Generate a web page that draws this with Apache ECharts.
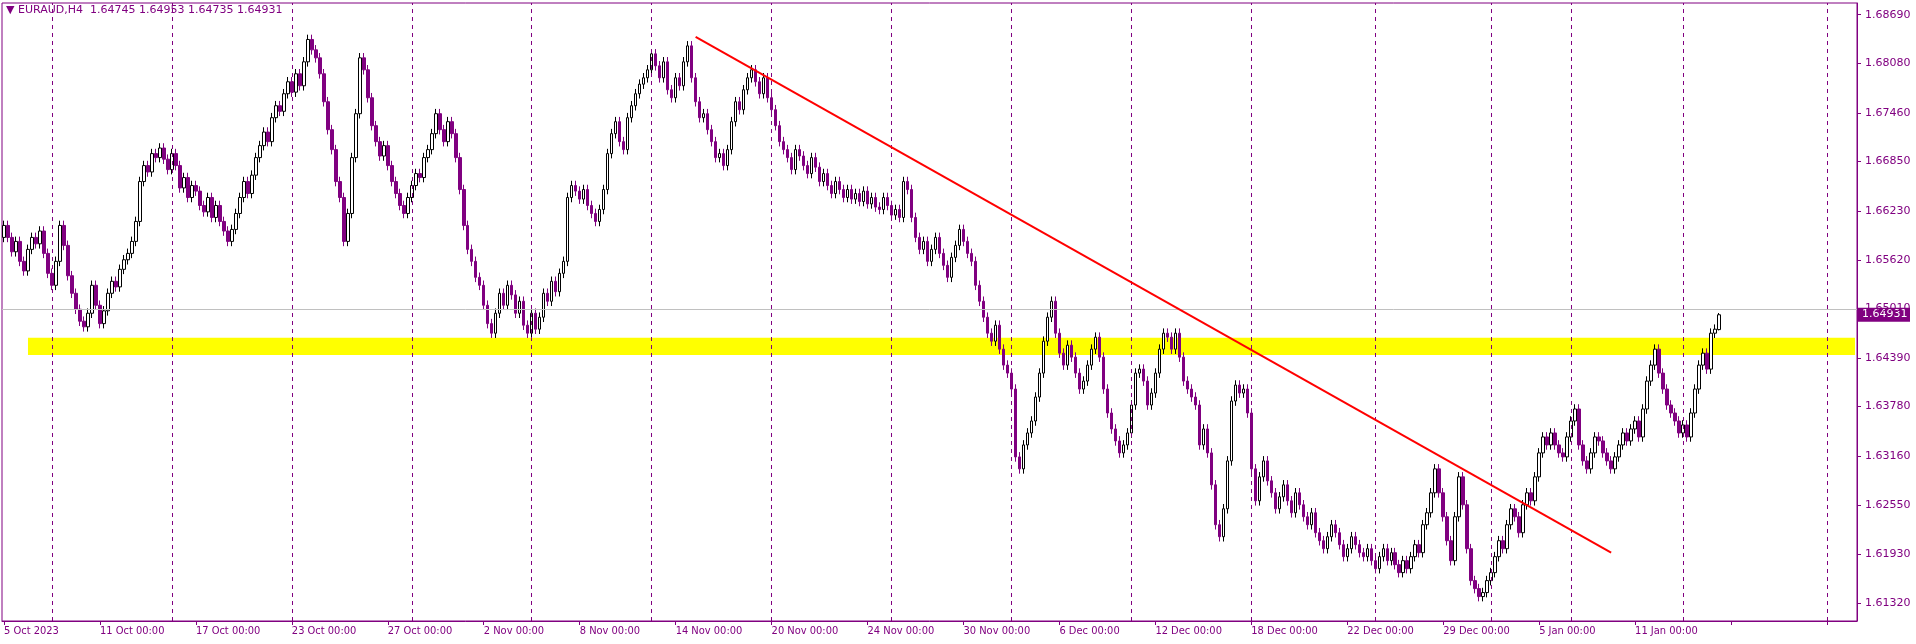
<!DOCTYPE html>
<html><head><meta charset="utf-8">
<script src="https://cdn.jsdelivr.net/npm/echarts@6/dist/echarts.min.js"></script>
<style>html,body{margin:0;padding:0;background:#fff}#c{width:1916px;height:644px}</style>
</head><body><div id="c"></div>
<script>
const firstOpen = 1.6590;
const closes = [
1.6605,1.6590,1.6572,1.6585,1.6560,1.6548,1.6575,1.6590,1.6582,1.6598,
1.6570,1.6545,1.6530,1.6560,1.6605,1.6580,1.6542,1.6520,1.6500,1.6485,
1.6478,1.6495,1.6530,1.6505,1.6482,1.6498,1.6520,1.6535,1.6528,1.6550,
1.6562,1.6570,1.6585,1.6610,1.6660,1.6680,1.6672,1.6695,1.6690,1.6702,
1.6688,1.6675,1.6695,1.6680,1.6652,1.6665,1.6640,1.6655,1.6648,1.6630,
1.6622,1.6640,1.6615,1.6630,1.6610,1.6598,1.6585,1.6600,1.6620,1.6640,
1.6660,1.6645,1.6668,1.6690,1.6705,1.6722,1.6710,1.6740,1.6755,1.6748,
1.6770,1.6785,1.6772,1.6795,1.6780,1.6810,1.6838,1.6825,1.6815,1.6795,
1.6760,1.6725,1.6700,1.6660,1.6640,1.6585,1.6620,1.6690,1.6745,1.6815,
1.6800,1.6765,1.6730,1.6710,1.6692,1.6705,1.6680,1.6660,1.6645,1.6630,
1.6620,1.6640,1.6655,1.6670,1.6665,1.6690,1.6700,1.6720,1.6745,1.6725,
1.6710,1.6735,1.6720,1.6690,1.6650,1.6605,1.6575,1.6560,1.6540,1.6530,
1.6505,1.6482,1.6470,1.6495,1.6520,1.6505,1.6530,1.6518,1.6495,1.6510,
1.6480,1.6470,1.6495,1.6475,1.6490,1.6520,1.6510,1.6535,1.6522,1.6545,
1.6560,1.6640,1.6655,1.6648,1.6638,1.6650,1.6630,1.6620,1.6610,1.6625,
1.6650,1.6695,1.6720,1.6735,1.6710,1.6700,1.6740,1.6755,1.6770,1.6782,
1.6790,1.6800,1.6820,1.6805,1.6790,1.6810,1.6775,1.6765,1.6790,1.6780,
1.6810,1.6830,1.6790,1.6760,1.6740,1.6745,1.6725,1.6710,1.6690,1.6695,
1.6680,1.6700,1.6735,1.6760,1.6750,1.6775,1.6790,1.6800,1.6785,1.6770,
1.6790,1.6765,1.6750,1.6730,1.6710,1.6700,1.6690,1.6675,1.6700,1.6692,
1.6680,1.6670,1.6690,1.6678,1.6660,1.6670,1.6655,1.6645,1.6660,1.6650,
1.6640,1.6650,1.6638,1.6645,1.6635,1.6648,1.6632,1.6640,1.6628,1.6625,
1.6640,1.6630,1.6618,1.6625,1.6615,1.6660,1.6650,1.6615,1.6590,1.6575,
1.6585,1.6560,1.6575,1.6590,1.6570,1.6555,1.6540,1.6565,1.6580,1.6600,
1.6585,1.6570,1.6560,1.6530,1.6510,1.6490,1.6470,1.6460,1.6480,1.6450,
1.6430,1.6420,1.6400,1.6315,1.6300,1.6330,1.6345,1.6360,1.6390,1.6420,
1.6460,1.6490,1.6510,1.6470,1.6445,1.6430,1.6455,1.6440,1.6420,1.6400,
1.6410,1.6430,1.6450,1.6465,1.6440,1.6400,1.6370,1.6350,1.6335,1.6320,
1.6330,1.6345,1.6380,1.6420,1.6425,1.6410,1.6380,1.6395,1.6420,1.6450,
1.6470,1.6465,1.6450,1.6470,1.6440,1.6410,1.6400,1.6390,1.6380,1.6330,
1.6350,1.6320,1.6280,1.6230,1.6215,1.6250,1.6310,1.6385,1.6405,1.6395,
1.6400,1.6370,1.6300,1.6260,1.6290,1.6310,1.6285,1.6270,1.6250,1.6265,
1.6280,1.6260,1.6245,1.6270,1.6255,1.6240,1.6230,1.6245,1.6220,1.6210,
1.6200,1.6215,1.6230,1.6220,1.6205,1.6190,1.6200,1.6215,1.6205,1.6195,
1.6190,1.6200,1.6185,1.6175,1.6190,1.6200,1.6185,1.6195,1.6180,1.6170,
1.6185,1.6175,1.6190,1.6205,1.6195,1.6230,1.6245,1.6270,1.6300,1.6270,
1.6240,1.6210,1.6185,1.6240,1.6290,1.6255,1.6200,1.6160,1.6150,1.6140,
1.6145,1.6160,1.6170,1.6190,1.6210,1.6200,1.6230,1.6250,1.6240,1.6220,
1.6255,1.6270,1.6260,1.6290,1.6320,1.6340,1.6330,1.6345,1.6330,1.6320,
1.6315,1.6340,1.6360,1.6375,1.6330,1.6310,1.6300,1.6320,1.6340,1.6335,
1.6320,1.6310,1.6300,1.6315,1.6330,1.6345,1.6335,1.6350,1.6360,1.6340,
1.6375,1.6410,1.6430,1.6450,1.6420,1.6400,1.6380,1.6370,1.6360,1.6345,
1.6355,1.6340,1.6370,1.6400,1.6430,1.6445,1.6425,1.6470,1.6475,1.64931
];
const wick = 0.0006;
const lastBar = [1.64745, 1.64931, 1.64735, 1.64953];
const dateLabels = ["5 Oct 2023","11 Oct 00:00","17 Oct 00:00","23 Oct 00:00","27 Oct 00:00","2 Nov 00:00","8 Nov 00:00","14 Nov 00:00","20 Nov 00:00","24 Nov 00:00","30 Nov 00:00","6 Dec 00:00","12 Dec 00:00","18 Dec 00:00","22 Dec 00:00","29 Dec 00:00","5 Jan 00:00","11 Jan 00:00"];
const labelStep = 24;
const gridLineIdx = [12,42,72,102,132,162,192,222,252,282,312,343,372,392,420,456];
const priceTicks = [1.61320,1.61930,1.62550,1.63160,1.63780,1.64390,1.65010,1.65620,1.66230,1.66850,1.67460,1.68080,1.68690];
const supportBand = [1.64427, 1.64643];
const trendLine = [[173, 1.68413], [402, 1.61950]];
const currentPrice = 1.64931;
const totalSlots = 464;

const cats = [];
for (let i = 0; i < totalSlots; i++) cats.push(String(i));
const ohlc = [];
let prev = firstOpen;
closes.forEach((c, i) => {
  const o = prev;
  if (i === closes.length - 1) { ohlc.push(lastBar); }
  else ohlc.push([o, c, Math.min(o, c) - wick, Math.max(o, c) + wick]);
  prev = c;
});
const P = '#800080';
const chart = echarts.init(document.getElementById('c'));
chart.setOption({
  animation: false,
  backgroundColor: '#fff',
  grid: { left: 2, right: 59, top: 3, bottom: 23, show: true, borderColor: P, borderWidth: 1 },
  xAxis: {
    type: 'category', data: cats, boundaryGap: true,
    axisLine: { lineStyle: { color: P } },
    axisTick: { show: true, alignWithLabel: true, interval: (i) => i % labelStep === 0, length: 4, lineStyle: { color: P } },
    axisLabel: { interval: (i) => i % labelStep === 0, align: 'left', color: P, fontFamily: 'DejaVu Sans Condensed, DejaVu Sans', fontSize: 11, margin: 5,
      formatter: (v) => dateLabels[(+v) / labelStep] || '' },
    splitLine: { show: false }
  },
  yAxis: {
    type: 'value', position: 'right', min: 1.61094, max: 1.68837, scale: true,
    axisLine: { show: true, lineStyle: { color: P } },
    axisTick: { show: true, customValues: priceTicks, length: 4, lineStyle: { color: P } },
    axisLabel: { customValues: priceTicks, color: P, fontFamily: 'DejaVu Sans', fontSize: 11, margin: 8, formatter: (v) => v.toFixed(5) },
    splitLine: { show: false }
  },
  series: [{
    type: 'candlestick', data: ohlc, barWidth: 3,
    itemStyle: { color: '#ffffff', color0: P, borderColor: '#000000', borderColor0: P, borderWidth: 1 },
    markArea: { silent: true, itemStyle: { color: '#ffff00' },
      data: [[{ xAxis: 6, yAxis: supportBand[0] }, { xAxis: totalSlots - 1, yAxis: supportBand[1] }]] },
    markLine: { silent: true, symbol: 'none', label: { show: false },
      data: [
        ...gridLineIdx.map(i => ({ xAxis: i, lineStyle: { color: P, type: [4, 4], width: 1 } })),
        { yAxis: currentPrice, lineStyle: { color: '#c0c0c0', type: 'solid', width: 1 } },
        [{ coord: [String(trendLine[0][0]), trendLine[0][1]], lineStyle: { color: '#ff0000', width: 2, type: 'solid' } },
         { coord: [String(trendLine[1][0]), trendLine[1][1]] }]
      ] }
  }]
});
const py = chart.convertToPixel({ yAxisIndex: 0 }, currentPrice);
chart.setOption({ graphic: [
  { type: 'text', left: 6, top: 5, style: { text: '▼ EURAUD,H4  1.64745 1.64953 1.64735 1.64931', fill: P, font: '11px "DejaVu Sans"' } },
  { type: 'rect', shape: { x: 1858, y: py - 7, width: 52, height: 14 }, style: { fill: P } },
  { type: 'text', x: 1862, y: py - 6, style: { text: currentPrice.toFixed(5), fill: '#fff', font: '11px "DejaVu Sans"' } }
]});
</script></body></html>
